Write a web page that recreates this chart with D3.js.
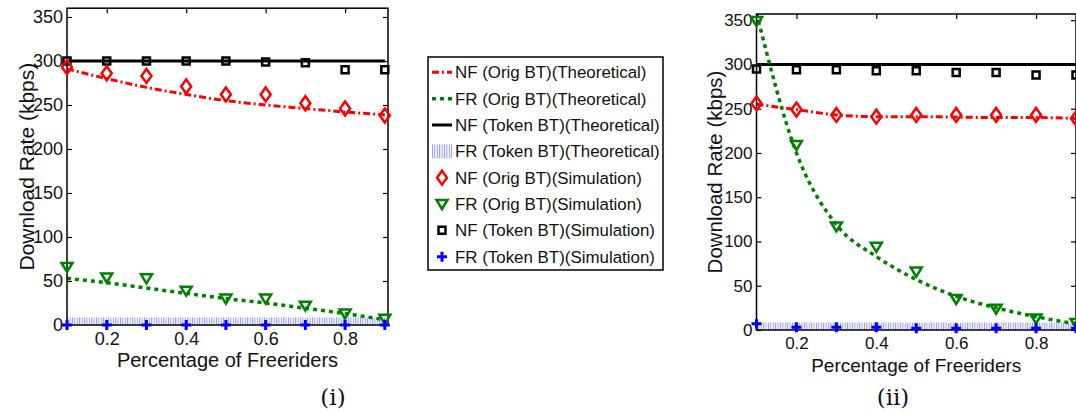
<!DOCTYPE html>
<html>
<head>
<meta charset="utf-8">
<script src="https://cdn.jsdelivr.net/npm/d3@7"></script>
<style>
  body { margin: 0; background: #fff; }
  svg { display: block; }
  text { font-family: "Liberation Sans", Arial, sans-serif; fill: #111; }
</style>
</head>
<body>
<svg id="chart" width="1076" height="412"></svg>
<script>
// x values (percentage of freeriders)
const xVals = [0.1, 0.2, 0.3, 0.4, 0.5, 0.6, 0.7, 0.8, 0.9];
const xTicks = [0.2, 0.4, 0.6, 0.8];
const yTicks = [0, 50, 100, 150, 200, 250, 300, 350];

// panel (i)
const nfOrigTheoryI = [291, 280, 270, 262, 255, 250, 246, 242, 239];
const frOrigTheoryI = [53, 48, 42, 36, 30, 25, 19, 13, 6];
const nfTokenTheoryI = [300, 300, 300, 300, 300, 300, 300, 300, 300];
const frTokenTheoryI = [0, 0, 0, 0, 0, 0, 0, 0, 0];
const nfOrigSimI = [293, 286, 283, 271, 262, 262, 252, 246, 238];
const frOrigSimI = [66, 54, 53, 39, 30, 30, 22, 13, 7];
const nfTokenSimI = [300, 300, 300, 300, 300, 299, 298, 290, 290];
const frTokenSimI = [0, 0, 0, 0, 0, 0, 0, 0, 0];

// panel (ii)
const nfOrigTheoryII = [255, 249, 243, 241, 241, 240.5, 240, 240, 239];
const frOrigTheoryII = [358, 200, 119, 83, 57, 38, 25, 15, 7];
const nfTokenTheoryII = [300, 300, 300, 300, 300, 300, 300, 300, 300];
const frTokenTheoryII = [0, 0, 0, 0, 0, 0, 0, 0, 0];
const nfOrigSimII = [256, 249, 243, 241, 243, 243, 243, 243, 239];
const frOrigSimII = [349, 209, 117, 94, 66, 35, 24, 13, 8];
const nfTokenSimII = [295, 294, 294, 293, 293, 291, 291, 288, 288];
const frTokenSimII = [7, 3, 3, 3, 2, 2, 2, 2, 2];

const legendLabels = [
  "NF (Orig BT)(Theoretical)",
  "FR (Orig BT)(Theoretical)",
  "NF (Token BT)(Theoretical)",
  "FR (Token BT)(Theoretical)",
  "NF (Orig BT)(Simulation)",
  "FR (Orig BT)(Simulation)",
  "NF (Token BT)(Simulation)",
  "FR (Token BT)(Simulation)"
];

const RED = "#ff0000", GREEN = "#008000", BLUE = "#0000ff", BLACK = "#000";

const svg = d3.select("#chart");
const defs = svg.append("defs");

// light blue vertical hatch used for FR (Token BT)(Theoretical)
const hatch = defs.append("pattern")
  .attr("id", "hatch")
  .attr("patternUnits", "userSpaceOnUse")
  .attr("width", 2.4).attr("height", 10);
hatch.append("rect").attr("width", 1).attr("height", 10).attr("fill", "#8f98ff");

// marker shapes
const markers = {
  diamond: "M0,-7L5,0L0,7L-5,0Z",
  tri: "M-5.5,-4L5.5,-4L0,5Z",
  square: "M-3.5,-3.5H3.5V3.5H-3.5Z",
  plus: "M-5,0H5M0,-5V5"
};

function drawPanel(p) {
  const x = d3.scaleLinear().domain(p.xDomain).range([p.left, p.right]);
  const y = d3.scaleLinear().domain([0, p.yMax]).range([p.bottom, p.top]);
  const g = svg.append("g");

  defs.append("clipPath").attr("id", p.id + "-clip")
    .append("rect")
    .attr("x", p.left).attr("y", p.top)
    .attr("width", p.right - p.left).attr("height", p.bottom - p.top);

  // axes (MATLAB style, ticks inward on all four sides)
  g.append("g")
    .attr("transform", `translate(0,${p.bottom})`)
    .call(d3.axisBottom(x).tickValues(xTicks).tickSize(-5).tickPadding(7).tickFormat(d3.format(".1f")))
    .call(a => a.select(".domain").remove())
    .call(a => a.selectAll("text").style("font-size", p.tickFont + "px"));
  g.append("g")
    .attr("transform", `translate(0,${p.top})`)
    .call(d3.axisTop(x).tickValues(xTicks).tickSize(-5).tickFormat(""))
    .call(a => a.select(".domain").remove());
  g.append("g")
    .attr("transform", `translate(${p.left},0)`)
    .call(d3.axisLeft(y).tickValues(yTicks).tickSize(-5).tickPadding(4))
    .call(a => a.select(".domain").remove())
    .call(a => a.selectAll("text").style("font-size", p.tickFont + "px"));
  g.append("g")
    .attr("transform", `translate(${p.right},0)`)
    .call(d3.axisRight(y).tickValues(yTicks).tickSize(-5).tickFormat(""))
    .call(a => a.select(".domain").remove());
  g.selectAll(".tick line").attr("stroke", BLACK).attr("stroke-width", 1.2);

  const plot = g.append("g").attr("clip-path", `url(#${p.id}-clip)`);
  const line = d3.line().x((d, i) => x(xVals[i])).y(d => y(d)).curve(d3.curveMonotoneX);

  // FR token theoretical: hatched band on the zero line
  plot.append("path").datum(p.frTokTh).attr("d", line)
    .attr("fill", "none").attr("stroke", "url(#hatch)").attr("stroke-width", 15);
  plot.append("path").datum(p.nfTokTh).attr("d", line)
    .attr("fill", "none").attr("stroke", BLACK).attr("stroke-width", 3);
  plot.append("path").datum(p.nfOrigTh).attr("d", line)
    .attr("fill", "none").attr("stroke", RED).attr("stroke-width", 3)
    .attr("stroke-dasharray", "7,3,2,3");
  plot.append("path").datum(p.frOrigTh).attr("d", line)
    .attr("fill", "none").attr("stroke", GREEN).attr("stroke-width", 3.5)
    .attr("stroke-dasharray", "4,4");

  // frame
  g.append("rect")
    .attr("x", p.left).attr("y", p.top)
    .attr("width", p.right - p.left).attr("height", p.bottom - p.top)
    .attr("fill", "none").attr("stroke", BLACK).attr("stroke-width", 1.5);

  // simulation markers
  const sims = [
    { data: p.nfTokSim, shape: "square", color: BLACK, w: 2.5 },
    { data: p.nfOrigSim, shape: "diamond", color: RED, w: 2.5 },
    { data: p.frOrigSim, shape: "tri", color: GREEN, w: 2.5 },
    { data: p.frTokSim, shape: "plus", color: BLUE, w: 3 }
  ];
  sims.forEach(s => {
    g.append("g").selectAll("path")
      .data(s.data)
      .join("path")
      .attr("transform", (d, i) => `translate(${x(xVals[i])},${y(d)})`)
      .attr("d", markers[s.shape])
      .attr("fill", "none")
      .attr("stroke", s.color)
      .attr("stroke-width", s.w);
  });

  // axis titles
  g.append("text")
    .attr("x", (p.left + p.right) / 2).attr("y", p.xTitleY)
    .attr("text-anchor", "middle")
    .style("font-size", p.titleFont + "px")
    .text("Percentage of Freeriders");
  g.append("text")
    .attr("transform", `translate(${p.yTitleX},${(p.top + p.bottom) / 2}) rotate(-90)`)
    .attr("text-anchor", "middle")
    .style("font-size", p.yTitleFont + "px")
    .text("Download Rate (kbps)");
  g.append("text")
    .attr("x", p.capX).attr("y", 405)
    .attr("text-anchor", "middle")
    .style("font-family", "'DejaVu Serif', serif")
    .style("font-size", "23px")
    .text(p.caption);
}

drawPanel({
  id: "p1", left: 67, right: 388, top: 8.2, bottom: 325,
  xDomain: [0.1, 0.908], yMax: 360,
  tickFont: 18, titleFont: 20, yTitleFont: 21, xTitleY: 367, yTitleX: 34,
  capX: 333, caption: "(i)",
  nfOrigTh: nfOrigTheoryI, frOrigTh: frOrigTheoryI, nfTokTh: nfTokenTheoryI, frTokTh: frTokenTheoryI,
  nfOrigSim: nfOrigSimI, frOrigSim: frOrigSimI, nfTokSim: nfTokenSimI, frTokSim: frTokenSimI
});

drawPanel({
  id: "p2", left: 756.5, right: 1076, top: 14, bottom: 330,
  xDomain: [0.1, 0.9], yMax: 357,
  tickFont: 17, titleFont: 19, yTitleFont: 20.5, xTitleY: 372, yTitleX: 722,
  capX: 893, caption: "(ii)",
  nfOrigTh: nfOrigTheoryII, frOrigTh: frOrigTheoryII, nfTokTh: nfTokenTheoryII, frTokTh: frTokenTheoryII,
  nfOrigSim: nfOrigSimII, frOrigSim: frOrigSimII, nfTokSim: nfTokenSimII, frTokSim: frTokenSimII
});

// legend
const lg = svg.append("g");
lg.append("rect")
  .attr("x", 428).attr("y", 57).attr("width", 235).attr("height", 213)
  .attr("fill", "#fff").attr("stroke", BLACK).attr("stroke-width", 1.5);

const legendY = d3.scaleLinear().domain([0, 7]).range([78.3, 262.7]);
const items = lg.selectAll("g.item")
  .data(legendLabels)
  .join("g")
  .attr("class", "item")
  .attr("transform", (d, i) => `translate(0,${legendY(i)})`);

items.append("text")
  .attr("x", 455)
  .style("font-size", "16.9px")
  .text(d => d);

items.each(function(d, i) {
  const it = d3.select(this);
  const cy = -6;
  if (i === 0) {
    it.append("line").attr("x1", 432).attr("x2", 452).attr("y1", cy).attr("y2", cy)
      .attr("stroke", RED).attr("stroke-width", 3).attr("stroke-dasharray", "7,3,2,3");
  } else if (i === 1) {
    it.append("line").attr("x1", 432).attr("x2", 452).attr("y1", cy).attr("y2", cy)
      .attr("stroke", GREEN).attr("stroke-width", 3.5).attr("stroke-dasharray", "4,4");
  } else if (i === 2) {
    it.append("line").attr("x1", 432).attr("x2", 452).attr("y1", cy).attr("y2", cy)
      .attr("stroke", BLACK).attr("stroke-width", 3);
  } else if (i === 3) {
    it.append("rect").attr("x", 432).attr("y", cy - 7).attr("width", 20).attr("height", 14)
      .attr("fill", "url(#hatch)");
  } else {
    const shape = ["diamond", "tri", "square", "plus"][i - 4];
    const color = [RED, GREEN, BLACK, BLUE][i - 4];
    it.append("path")
      .attr("transform", `translate(442,${cy})`)
      .attr("d", markers[shape])
      .attr("fill", "none").attr("stroke", color)
      .attr("stroke-width", shape === "plus" ? 3 : 2.5);
  }
});
</script>
</body>
</html>
